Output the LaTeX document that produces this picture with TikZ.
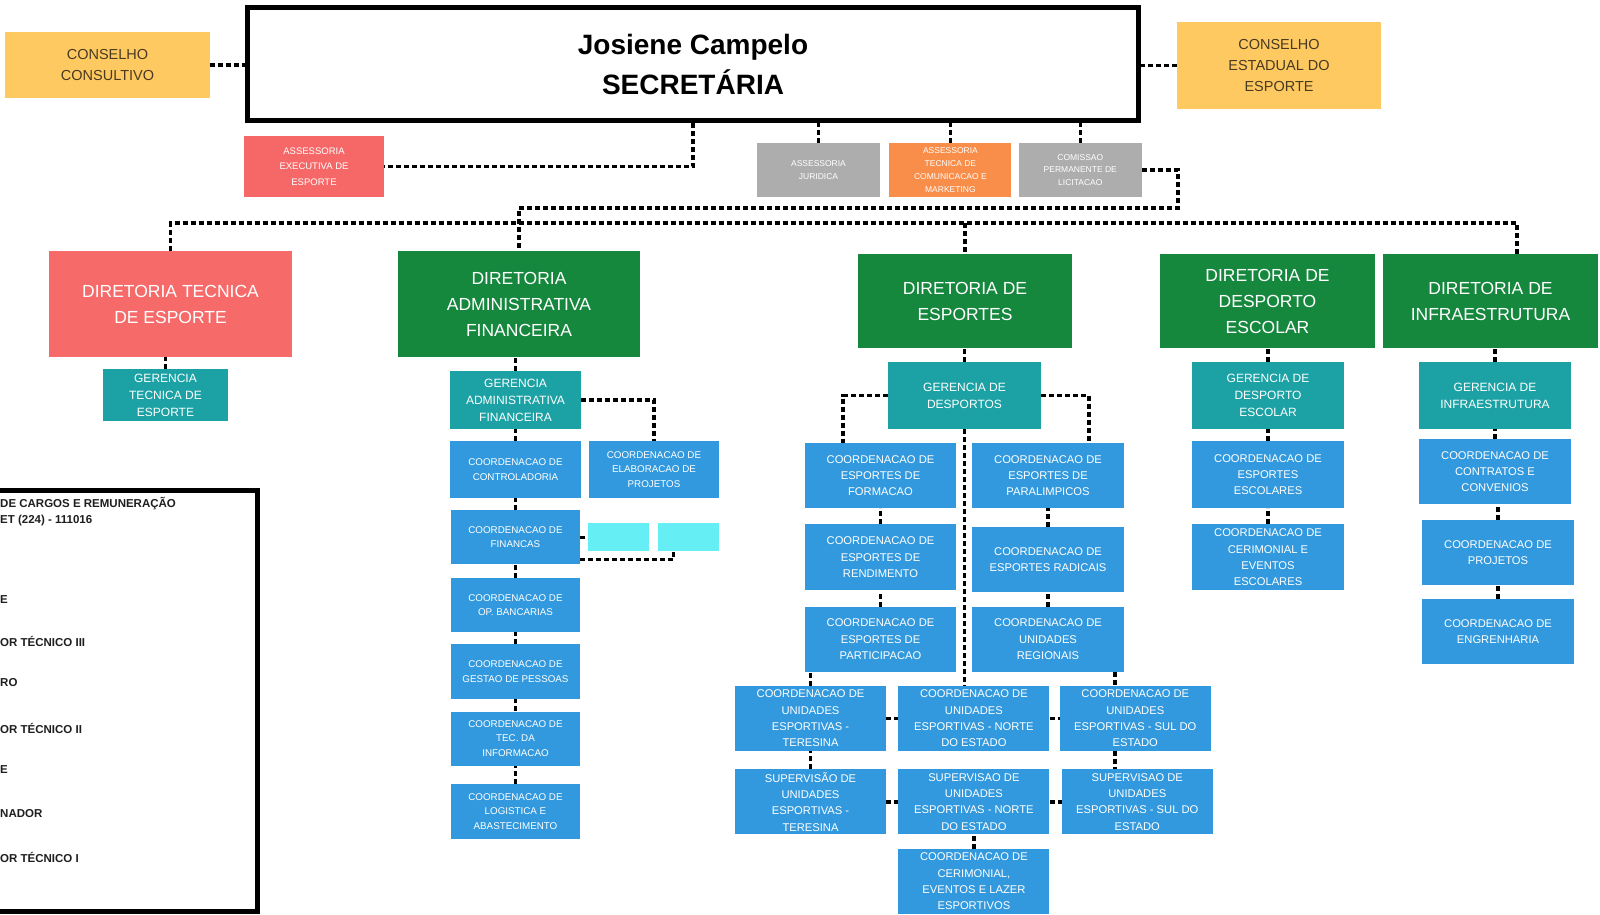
\documentclass[tikz,border=0pt]{standalone}
\usepackage{fontspec}
\setmainfont{Liberation Sans}
\usepackage{tikz}
\usetikzlibrary{positioning}

\definecolor{consyel}{RGB}{254,201,96}
\definecolor{constxt}{RGB}{72,58,34}
\definecolor{assred}{RGB}{246,104,104}
\definecolor{assgray}{RGB}{173,173,173}
\definecolor{assorange}{RGB}{249,142,74}
\definecolor{dirred}{RGB}{246,106,106}
\definecolor{dirgreen}{RGB}{22,136,62}
\definecolor{gerteal}{RGB}{28,162,164}
\definecolor{crdblue}{RGB}{50,153,222}
\definecolor{cyanb}{RGB}{102,238,245}
\definecolor{legtext}{RGB}{30,30,30}

\begin{document}
\begin{tikzpicture}[
    x=1pt, y=-1pt,
    node distance = 12pt and 8pt,
    orgbox/.style = {inner sep=0pt, align=center, text=white},
    cons/.style   = {orgbox, fill=consyel, text=constxt,
                     font=\fontsize{14.5}{21.4}\selectfont},
    dir/.style    = {orgbox, font=\fontsize{17.5}{26}\selectfont},
    ger/.style    = {orgbox, fill=gerteal, font=\fontsize{12}{17}\selectfont},
    crd/.style    = {orgbox, fill=crdblue, minimum width=151, minimum height=65,
                     font=\fontsize{11.2}{16.3}\selectfont},
    crds/.style   = {orgbox, fill=crdblue, minimum width=129, minimum height=54,
                     font=\fontsize{9.8}{14.3}\selectfont},
    ass/.style    = {orgbox, minimum width=123, minimum height=54,
                     font=\fontsize{8.5}{12.8}\selectfont},
    legtxt/.style = {anchor=west, inner sep=0pt, text=legtext,
                     font=\fontsize{11.5}{13}\selectfont\bfseries},
    lnk/.style    = {line width=3.6pt, dash pattern=on 5pt off 3pt},
  ]

  \useasboundingbox (0,0) rectangle (1600,915);
  \clip (0,0) rectangle (1600,915);

  % secretaria and councils
  \node[orgbox, draw=black, line width=5pt, text=black, minimum width=891,
        minimum height=113, font={\fontsize{28}{40}\selectfont\bfseries}]
        (sec) at (693,64) {Josiene Campelo\\SECRETÁRIA};
  \node[cons, minimum width=205, minimum height=66] (ccons) at (107.5,65)
        {CONSELHO\\CONSULTIVO};
  \node[cons, minimum width=204, minimum height=87] (cest) at (1279,65.5)
        {CONSELHO\\ESTADUAL DO\\ESPORTE};

  \node[ass, fill=assred, minimum width=140, minimum height=61,
        font=\fontsize{9.5}{15.5}\selectfont] (aee) at (314,166.5)
        {ASSESSORIA\\EXECUTIVA DE\\ESPORTE};
  \node[ass, fill=assgray] (ajur) at (818.5,170) {ASSESSORIA\\JURIDICA};
  \node[ass, fill=assorange, right=9pt of ajur, minimum width=122] (acom)
        {ASSESSORIA\\TECNICA DE\\COMUNICACAO E\\MARKETING};
  \node[ass, fill=assgray, right=7pt of acom] (cpl)
        {COMISSAO\\PERMANENTE DE\\LICITACAO};

  % diretorias
  \node[dir, fill=dirred, minimum width=243, minimum height=106] (dte) at (170.5,304)
        {DIRETORIA TECNICA\\DE ESPORTE};
  \node[dir, fill=dirgreen, minimum width=242, minimum height=106] (daf) at (519,304)
        {DIRETORIA\\ADMINISTRATIVA\\FINANCEIRA};
  \node[dir, fill=dirgreen, minimum width=214, minimum height=94] (desp) at (965,301)
        {DIRETORIA DE\\ESPORTES};
  \node[dir, fill=dirgreen, minimum width=215, minimum height=94] (ddesc) at (1267.5,301)
        {DIRETORIA DE\\DESPORTO\\ESCOLAR};
  \node[dir, fill=dirgreen, minimum width=215, minimum height=94] (dinf) at (1490.5,301)
        {DIRETORIA DE\\INFRAESTRUTURA};

  % gerencias
  \node[ger, minimum width=125, minimum height=52] (gte) at (165.5,395)
        {GERENCIA\\TECNICA DE\\ESPORTE};
  \node[ger, minimum width=131, minimum height=58] (gaf) at (515.5,400)
        {GERENCIA\\ADMINISTRATIVA\\FINANCEIRA};
  \node[ger, minimum width=153, minimum height=67] (gdesp) at (964.5,395.5)
        {GERENCIA DE\\DESPORTOS};
  \node[ger, minimum width=152, minimum height=67] (gdesc) at (1268,395.5)
        {GERENCIA DE\\DESPORTO\\ESCOLAR};
  \node[ger, minimum width=152, minimum height=67] (ginf) at (1495,395.5)
        {GERENCIA DE\\INFRAESTRUTURA};

  % administrativa financeira
  \node[crds, minimum width=131, minimum height=57] (ctrl) at (515.5,469.5)
        {COORDENACAO DE\\CONTROLADORIA};
  \node[crds, minimum width=130, minimum height=57] (elab) at (654,469.5)
        {COORDENACAO DE\\ELABORACAO DE\\PROJETOS};
  \node[crds, below=12pt of ctrl] (fin) {COORDENACAO DE\\FINANCAS};
  \node[orgbox, fill=cyanb, minimum width=61, minimum height=28, right=8pt of fin] (cyn1) {};
  \node[orgbox, fill=cyanb, minimum width=61, minimum height=28, right=8pt of cyn1] (cyn2) {};
  \node[crds, below=13pt of fin] (opb) {COORDENACAO DE\\OP. BANCARIAS};
  \node[crds, below=12pt of opb, minimum height=55] (gpes) {COORDENACAO DE\\GESTAO DE PESSOAS};
  \node[crds, below=12pt of gpes] (tinf) {COORDENACAO DE\\TEC. DA\\INFORMACAO};
  \node[crds, below=18pt of tinf, minimum height=55] (logi)
        {COORDENACAO DE\\LOGISTICA E\\ABASTECIMENTO};

  % esportes
  \node[crd] (form) at (880.5,475.5) {COORDENACAO DE\\ESPORTES DE\\FORMACAO};
  \node[crd, minimum width=152] (para) at (1048,475.5)
        {COORDENACAO DE\\ESPORTES DE\\PARALIMPICOS};
  \node[crd, below=16pt of form, minimum height=66] (rend)
        {COORDENACAO DE\\ESPORTES DE\\RENDIMENTO};
  \node[crd, below=16pt of rend] (part) {COORDENACAO DE\\ESPORTES DE\\PARTICIPACAO};
  \node[crd, minimum width=152, below=19pt of para] (rad)
        {COORDENACAO DE\\ESPORTES RADICAIS};
  \node[crd, minimum width=152, below=14pt of rad] (ureg)
        {COORDENACAO DE\\UNIDADES\\REGIONAIS};
  \node[crd] (ute) at (810.5,718.5) {COORDENACAO DE\\UNIDADES\\ESPORTIVAS -\\TERESINA};
  \node[crd, right=12pt of ute] (uno) {COORDENACAO DE\\UNIDADES\\ESPORTIVAS - NORTE\\DO ESTADO};
  \node[crd, right=10pt of uno] (usu) {COORDENACAO DE\\UNIDADES\\ESPORTIVAS - SUL DO\\ESTADO};
  \node[crd, below=18pt of ute] (ste) {SUPERVISÃO DE\\UNIDADES\\ESPORTIVAS -\\TERESINA};
  \node[crd, right=12pt of ste] (sno) {SUPERVISAO DE\\UNIDADES\\ESPORTIVAS - NORTE\\DO ESTADO};
  \node[crd, right=12pt of sno] (ssu) {SUPERVISAO DE\\UNIDADES\\ESPORTIVAS - SUL DO\\ESTADO};
  \node[crd, below=14pt of sno] (cerim)
        {COORDENACAO DE\\CERIMONIAL,\\EVENTOS E LAZER\\ESPORTIVOS};

  % desporto escolar and infraestrutura
  \node[crd, minimum width=152, minimum height=67] (eesc) at (1268,474.5)
        {COORDENACAO DE\\ESPORTES\\ESCOLARES};
  \node[crd, minimum width=152, minimum height=66, below=16pt of eesc] (ceesc)
        {COORDENACAO DE\\CERIMONIAL E\\EVENTOS\\ESCOLARES};
  \node[crd, minimum width=152] (ccon) at (1495,471.5)
        {COORDENACAO DE\\CONTRATOS E\\CONVENIOS};
  \node[crd, minimum width=152] (cproj) at (1498,552.5) {COORDENACAO DE\\PROJETOS};
  \node[crd, minimum width=152, below=14pt of cproj] (ceng) {COORDENACAO DE\\ENGRENHARIA};

  % dotted links
  \draw[lnk] (ccons.east) -- (ccons.east -| sec.west);
  \draw[lnk] (cest.west) -- (cest.west -| sec.east);
  \draw[lnk] (sec.south) |- (aee.east);
  \foreach \n in {ajur, acom, cpl}
    \draw[lnk] (\n.north) -- (\n.north |- sec.south);

  % the commission route comes down through the bus into the DAF
  \coordinate (cplturn) at (1178,208);
  \coordinate (busR) at (1517,223);
  \draw[lnk] (cpl.east) -| (cplturn) -| (daf.north);
  \draw[lnk] (dte.north) |- (busR) -- (busR |- dinf.north);
  \draw[lnk] (desp.north |- busR) -- (desp.north);

  \foreach \a/\b in {dte/gte, daf/gaf, desp/gdesp, ddesc/gdesc, dinf/ginf,
                     gaf/ctrl, ctrl/fin, fin/opb, opb/gpes, gpes/tinf, tinf/logi,
                     form/rend, rend/part, para/rad, rad/ureg, part/ute, ute/ste,
                     sno/cerim, gdesc/eesc, eesc/ceesc, ginf/ccon, ccon/cproj, cproj/ceng}
    \draw[lnk] (\b.north) -- (\b.north |- \a.south);

  \foreach \a/\b in {ute/uno, uno/usu, ste/sno, sno/ssu, fin/cyn1}
    \draw[lnk] (\a.east) -- (\a.east -| \b.west);

  \draw[lnk] (gaf.east) -| (elab.north);
  \draw[lnk] ([yshift=5pt]fin.south east) -| ([xshift=-15pt]cyn2.south);
  \draw[lnk] (gdesp.west) -| ([xshift=-37.5pt]form.north);
  \draw[lnk] (gdesp.east) -| ([xshift=41pt]para.north);
  \draw[lnk] (gdesp.south) -- (gdesp.south |- uno.north);

  \coordinate (sulx) at (1115,0);
  \draw[lnk] (sulx |- ureg.south) -- (sulx |- usu.north);
  \draw[lnk] (sulx |- usu.south) -- (sulx |- ssu.north);

  % legend box, cut at the left edge
  \draw[line width=5pt] (-20,490) rectangle (257,911);
  \node[legtxt] (lg1) at (0,504) {DE CARGOS E REMUNERAÇÃO};
  \node[legtxt] (lg2) at (0,521) {ET (224) - 111016};
  \node[legtxt] (lg3) at (0,600) {E};
  \node[legtxt] (lg4) at (0,641) {OR TÉCNICO III};
  \node[legtxt] (lg5) at (0,683) {RO};
  \node[legtxt] (lg6) at (0,728) {OR TÉCNICO II};
  \node[legtxt] (lg7) at (0,770) {E};
  \node[legtxt] (lg8) at (0,814) {NADOR};
  \node[legtxt] (lg9) at (0,857) {OR TÉCNICO I};

\end{tikzpicture}
\end{document}
